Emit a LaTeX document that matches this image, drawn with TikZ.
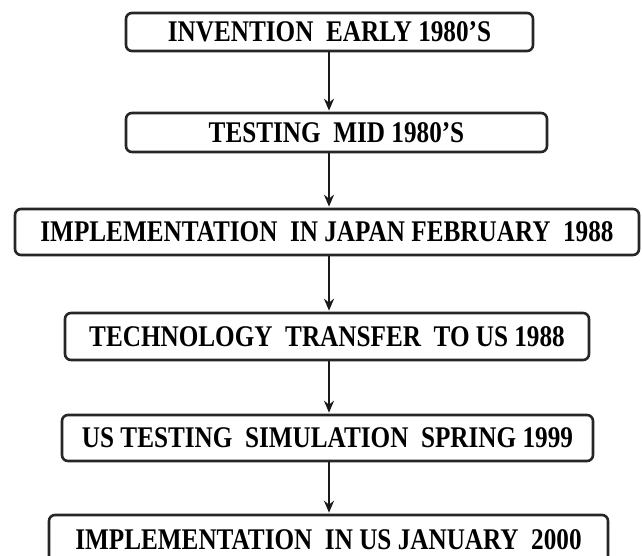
\documentclass[tikz,border=0pt]{standalone}
\usepackage{fontspec}
\setmainfont{Liberation Serif}
\newfontfamily\condfont[FakeStretch=0.84]{Liberation Serif}
\usetikzlibrary{arrows.meta}
\begin{document}
\begin{tikzpicture}[x=1pt,y=-1pt,
  box/.style={draw=black!85, line width=2.6pt, rounded corners=6pt, inner sep=0pt,
    font=\condfont\bfseries\fontsize{30}{30}\selectfont},
  flow/.style={draw=black!90, line width=2pt, shorten >=1pt,
    -{Stealth[length=12pt,width=10pt,inset=4pt]}}]
\useasboundingbox (0,0) rectangle (642,556);
\clip (0,0) rectangle (642,556);
\node[box, minimum width=407pt, minimum height=38pt] (n1) at (329.5,32) {INVENTION\ \ EARLY 1980’S};
\node[box, minimum width=421pt, minimum height=39pt] (n2) at (336.5,132.5) {TESTING\ \ MID 1980’S};
\node[box, minimum width=624pt, minimum height=46pt] (n3) at (327,232) {IMPLEMENTATION\ \ IN JAPAN FEBRUARY\ \ 1988};
\node[box, minimum width=524pt, minimum height=47pt] (n4) at (327,336.5) {TECHNOLOGY\ \ TRANSFER\ \ TO US 1988};
\node[box, minimum width=531pt, minimum height=46pt] (n5) at (327.5,438) {US TESTING\ \ SIMULATION\ \ SPRING 1999};
\node[box, minimum width=559pt, minimum height=50pt] (n6) at (328.5,540) {IMPLEMENTATION\ \ IN US JANUARY\ \ 2000};
\coordinate (ax) at (329,0);
\draw[flow] (n1.south -| ax) -- (n2.north -| ax);
\draw[flow] (n2.south -| ax) -- (n3.north -| ax);
\draw[flow] (n3.south -| ax) -- (n4.north -| ax);
\draw[flow] (n4.south -| ax) -- (n5.north -| ax);
\draw[flow] (n5.south -| ax) -- (n6.north -| ax);
\end{tikzpicture}
\end{document}
